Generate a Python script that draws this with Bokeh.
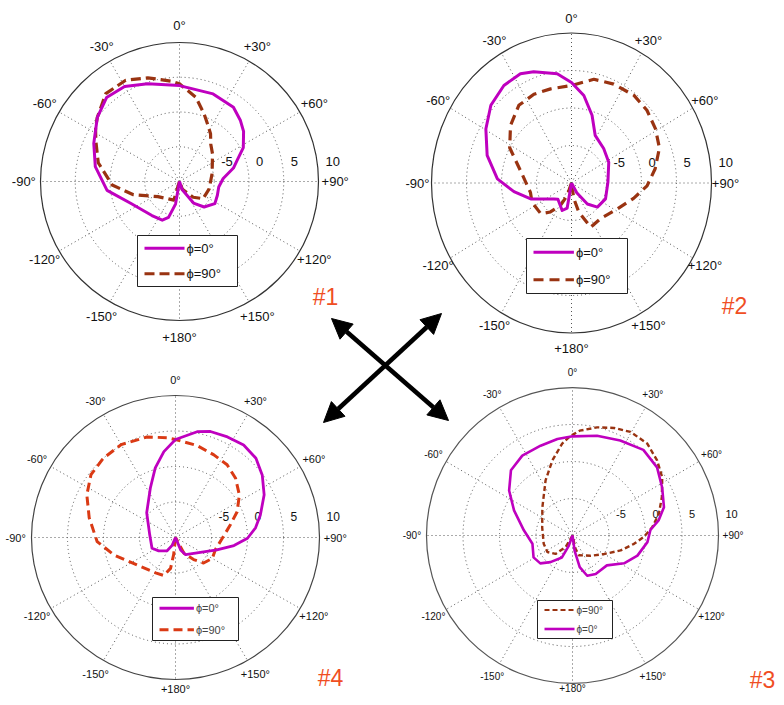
import numpy as np
from bokeh.plotting import figure
from bokeh.models import Range1d, Arrow, NormalHead
from bokeh.core.properties import value
from bokeh.embed import file_html
from bokeh.resources import INLINE

# ---------------- data ----------------
R_MIN, R_MAX = -10, 10
ring_values = [-5, 0, 5, 10]
ring_labels = ["-5", "0", "5", "10"]
angle_ticks = [0, 30, 60, 90, 120, 150, 180, 210, 240, 270, 300, 330]
angle_labels = ["0°", "+30°", "+60°", "+90°", "+120°", "+150°", "+180°",
                "-150°", "-120°", "-90°", "-60°", "-30°"]
legend_phi0 = "ϕ=0°"
legend_phi90 = "ϕ=90°"
panel_names = ["#1", "#2", "#3", "#4"]

# panel #1
p1_phi0_theta = [-180, -170, -163, -156, -141, -114, -97, -80, -66, -52, -41, -30, -18, 0,
                 21, 36, 45, 52, 62, 70, 76, 86, 98, 110, 122, 136, 147, 162, 180]
p1_phi0_db = [-10, -6.7, -4.6, -3.9, -3.7, -2.3, 0.5, 2.3, 3.5, 5.0, 6.0, 5.8, 4.8, 3.8,
              3.5, 3.2, 2.4, 1.7, 0.4, -1.2, -2.0, -3.7, -4.3, -4.2, -4.0, -4.9, -6.3, -8.8, -10]
p1_phi90_theta = [-180, -163, -125, -106, -93, -77, -64, -57, -52, -40, -28, -17, -5, 0,
                  11, 20, 26, 33, 40, 50, 63, 77, 104, 126, 139, 160, 180]
p1_phi90_db = [-10, -7.2, -6.2, -3.1, -0.3, 2.0, 3.4, 4.4, 5.0, 6.5, 6.5, 5.6, 4.5, 4.05,
               2.35, 0.35, -0.8, -1.8, -3.0, -3.8, -4.7, -5.2, -5.6, -5.8, -7.0, -8.8, -10]

# panel #2
p2_phi0_theta = [-180, -169.5, -160, -138, -130, -110, -98, -87, -73, -59.5, -48, -36.6, -26.6,
                 -20, -8, 0, 8.6, 18, 28, 45, 62.5, 89, 113.5, 131, 141, 150, 180]
p2_phi0_db = [-10, -6.6, -6.1, -7.1, -6.7, -3.8, -1.7, 0.6, 2.6, 4.2, 5.5, 6.2, 6.3,
              5.8, 4.7, 3.4, 1.8, -0.5, -2.8, -3.5, -4.0, -4.8, -4.7, -5.1, -6.4, -8.5, -10]
p2_phi90_theta = [-180, -159.5, -152, -142, -133, -114.5, -102, -78, -62, -48.7, -36, -24.4,
                  -13.4, 0, 13, 24.6, 37.4, 48, 59, 69.6, 81, 92, 103, 118, 139, 155, 165,
                  171, 180]
p2_phi90_db = [-10, -8.2, -6.6, -5.1, -4.0, -3.8, -4.0, -2.6, 0.0, 1.6, 2.8, 3.0,
               2.9, 3.0, 4.2, 4.5, 4.7, 4.5, 4.0, 3.4, 2.1, 0.8, -0.9, -2.6, -3.7, -3.5, -6.0,
               -7.9, -10]

# panel #3
p3_phi0_theta = [-180, -160, -154, -140, -130.5, -119, -101.5, -84, -67, -55, -43.7, -32.5,
                 -19.8, -9, 0, 14, 27, 40, 51.5, 62, 73, 80, 86, 95, 107, 118, 130.6, 148.6,
                 159.7, 167, 172, 180]
p3_phi0_db = [-10, -8.5, -6.7, -5.3, -4.2, -3.9, -4.4, -3.3, -1.3, 0.6, 2.2, 2.8,
              2.9, 3.2, 3.4, 3.9, 4.4, 5.1, 4.8, 3.9, 3.1, 2.0, 0.7, 0.3, -0.7, -2.0, -3.8, -3.9,
              -4.2, -5.6, -7.9, -10]
p3_phi90_theta = [-180, -149, -137, -123, -106, -75, -47.5, -26.4, -15.3, -6.5, -2, 0, 4, 13,
                  21.3, 29.6, 39.5, 48.8, 57.3, 67, 76, 84, 91, 97.6, 107, 120, 137.7, 162,
                  167, 180]
p3_phi90_db = [-10, -8.2, -6.6, -5.9, -5.9, -5.7, -4.4, -1.7, 0.5, 2.5, 3.3, 3.6, 4.2, 5.0,
               5.6, 6.1, 6.1, 5.4, 4.6, 3.3, 2.2, 1.0, -0.2, -1.5, -3.1, -5.0, -6.3, -7.2,
               -8.2, -10]

# panel #4
p4_phi0_theta = [-180, -157, -148, -129, -115, -84, -49, -26.6, -16, -7.6, 0, 11.4, 18, 27,
                 36, 45, 54, 64, 75, 83, 90.6, 98, 107, 126, 150, 158, 180]
p4_phi0_db = [-10, -8.8, -7.8, -7.0, -6.4, -6.4, -4.7, -2.2, 0.2, 2.2, 3.8, 5.2, 5.7, 5.9,
              6.1, 5.8, 4.9, 3.7, 2.2, 1.2, 0.0, -1.8, -4.0, -6.3, -7.2, -8.1, -10]
p4_phi90_theta = [-180, -174, -171, -163, -151, -126, -106, -93, -77, -64, -53, -42, -30,
                  -15.6, -4.7, 0, 13, 24.6, 35, 45, 56, 67, 77, 91, 107, 120, 132.6, 141, 152,
                  180]
p4_phi90_db = [-10, -7.6, -5.6, -4.4, -4.3, -3.4, -1.1, 0.9, 2.3, 3.7, 4.7, 5.0, 5.1,
               4.7, 4.1, 3.8, 3.3, 2.8, 2.5, 1.8, 0.7, -0.7, -2.2, -3.5, -4.2, -4.1, -4.7, -6.0,
               -7.5, -10]

# ---------------- styling ----------------
MAGENTA = "#BF00BF"
BROWN = "#993311"
RED = "#DA3A14"
TAG = "#F04E23"
FONT = value("Liberation Sans")

W, H = 776, 697
p = figure(width=W, height=H, output_backend="svg", toolbar_location=None,
           x_range=Range1d(0, W), y_range=Range1d(H, 0),
           min_border=0, outline_line_color=None)
p.axis.visible = False
p.grid.visible = False
p.background_fill_color = "white"


def polar_xy(theta, db, cx, cy, rx, ry):
    t = np.radians(np.asarray(theta, dtype=float))
    r = np.clip((np.asarray(db, dtype=float) - R_MIN) / (R_MAX - R_MIN), 0, None)
    return cx + rx * r * np.sin(t), cy - ry * r * np.cos(t)


def draw_frame(cx, cy, rx, ry, afs, rfs, lf, roff, circ_color):
    t = np.radians(angle_ticks)
    p.segment(x0=[cx] * len(t), y0=[cy] * len(t),
              x1=cx + rx * np.sin(t), y1=cy - ry * np.cos(t),
              line_color="#555555", line_width=1, line_dash="1 3")
    fr = [(v - R_MIN) / (R_MAX - R_MIN) for v in ring_values]
    inner = fr[:-1]
    p.ellipse(x=[cx] * len(inner), y=[cy] * len(inner),
              width=[2 * rx * f for f in inner], height=[2 * ry * f for f in inner],
              fill_color=None, line_color="#555555", line_width=1, line_dash="1 3")
    p.ellipse(x=[cx], y=[cy], width=[2 * rx], height=[2 * ry], fill_color=None,
              line_color=circ_color, line_width=1.2)
    ly = np.minimum(cy - lf * ry * np.cos(t), H - 9)
    p.text(x=cx + lf * rx * np.sin(t), y=ly, text=angle_labels,
           text_font=FONT, text_font_size=afs, text_align="center",
           text_baseline="middle", text_color="#111111")
    p.text(x=[cx + rx * f + 7 for f in fr], y=[cy - roff] * len(fr), text=ring_labels,
           text_font=FONT, text_font_size=rfs, text_align="left",
           text_baseline="middle", text_color="#111111")


def draw_legend(x0, y0, x1, y1, rows, fs, tcol):
    p.quad(left=[x0], right=[x1], top=[y0], bottom=[y1], fill_color="white",
           line_color="#222222", line_width=1)
    n = len(rows)
    h = (y1 - y0) / n
    for i, (label, color, dash, lw) in enumerate(rows):
        yy = y0 + h * (i + 0.5)
        p.line(x=[x0 + 7, x0 + 7 + 0.4 * (x1 - x0)], y=[yy, yy], line_color=color,
               line_width=lw, line_dash=dash)
        p.text(x=[x0 + 9 + 0.4 * (x1 - x0)], y=[yy], text=[label], text_font=FONT,
               text_font_size=fs, text_baseline="middle", text_color=tcol)


panels = [
    dict(cx=179, cy=181, rx=139, ry=139, afs="13px", rfs="13px", lf=1.12, roff=20,
         circ="#333333", curves=[(p1_phi90_theta, p1_phi90_db, BROWN, "10 5", 3.2),
                                 (p1_phi0_theta, p1_phi0_db, MAGENTA, "solid", 3.0)],
         legend=(137, 235, 237, 286, "13px", "#111111",
                 [(legend_phi0, MAGENTA, "solid", 3.0), (legend_phi90, BROWN, "10 5", 3.2)])),
    dict(cx=571, cy=182.5, rx=140, ry=150, afs="13px", rfs="13px", lf=1.1, roff=21,
         circ="#333333", curves=[(p2_phi90_theta, p2_phi90_db, BROWN, "10 6", 3.2),
                                 (p2_phi0_theta, p2_phi0_db, MAGENTA, "solid", 3.0)],
         legend=(526, 238, 627, 293, "13px", "#111111",
                 [(legend_phi0, MAGENTA, "solid", 3.0), (legend_phi90, BROWN, "10 6", 3.2)])),
    dict(cx=572, cy=535, rx=146, ry=148, afs="10px", rfs="11px", lf=1.1, roff=22,
         circ="#555555", curves=[(p3_phi90_theta, p3_phi90_db, BROWN, "5 3", 2.4),
                                 (p3_phi0_theta, p3_phi0_db, MAGENTA, "solid", 2.6)],
         legend=(537, 600, 612, 638, "10px", "#444444",
                 [(legend_phi90, BROWN, "5 3", 2.2), (legend_phi0, MAGENTA, "solid", 2.6)])),
    dict(cx=175, cy=537, rx=144, ry=142, afs="11px", rfs="12px", lf=1.11, roff=21,
         circ="#444444", curves=[(p4_phi90_theta, p4_phi90_db, RED, "9 5", 3.0),
                                 (p4_phi0_theta, p4_phi0_db, MAGENTA, "solid", 2.8)],
         legend=(152, 597, 238, 640, "11px", "#444444",
                 [(legend_phi0, MAGENTA, "solid", 2.8), (legend_phi90, RED, "9 5", 3.0)])),
]

for pn in panels:
    draw_frame(pn["cx"], pn["cy"], pn["rx"], pn["ry"], pn["afs"], pn["rfs"], pn["lf"],
               pn["roff"], pn["circ"])
    for th, db, col, dash, lw in pn["curves"]:
        xs, ys = polar_xy(th, db, pn["cx"], pn["cy"], pn["rx"], pn["ry"])
        p.line(x=xs, y=ys, line_color=col, line_width=lw, line_dash=dash,
               line_join="round")
    x0, y0, x1, y1, fs, tcol, rows = pn["legend"]
    draw_legend(x0, y0, x1, y1, rows, fs, tcol)

# panel tags
p.text(x=[325, 734, 762, 330], y=[296, 305, 679, 677], text=panel_names, text_font=FONT,
       text_font_size="23px", text_align="center", text_baseline="middle", text_color=TAG)

# crossing double arrows
for (xa, ya, xb, yb) in [(331, 318, 448, 420), (441, 313, 323, 422)]:
    p.add_layout(Arrow(start=NormalHead(size=20, fill_color="black", line_color="black"),
                       end=NormalHead(size=20, fill_color="black", line_color="black"),
                       x_start=xa, y_start=ya, x_end=xb, y_end=yb,
                       line_width=4.5, line_color="black"))

open("out.html", "w").write(file_html(p, INLINE))
